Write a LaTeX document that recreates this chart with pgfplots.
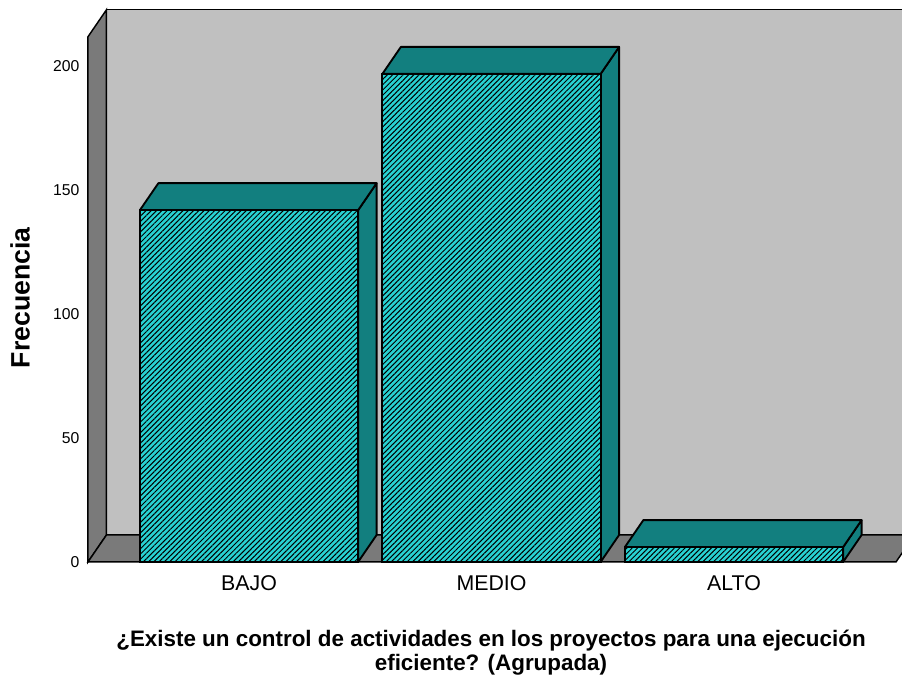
\documentclass[border=0pt]{standalone}
\usepackage{fontspec}
\setmainfont{Liberation Sans}
\usepackage{pgfplots}
\pgfplotsset{compat=1.18}
\usetikzlibrary{patterns.meta}
\definecolor{wallback}{RGB}{192,192,192}
\definecolor{walldark}{RGB}{122,122,122}
\definecolor{barfront}{RGB}{40,210,210}
\definecolor{bardark}{RGB}{18,127,127}
\begin{document}
\begin{tikzpicture}
\begin{axis}[
  x=181.875pt, y=1.858pt,
  xmin=-0.664, xmax=2.668, ymin=0, ymax=212,
  axis line style={draw=none},
  clip=false,
  xtick={0,1,2}, xticklabels={BAJO,MEDIO,ALTO},
  ytick={0,50,100,150,200},
  major tick length=0pt,
  tick style={draw=none},
  /pgf/number format/assume math mode=true,
  yticklabel style={font=\fontsize{11.8}{13}\selectfont, xshift=-3pt},
  xticklabel style={font=\fontsize{16}{19}\selectfont, yshift=-6.8pt},
  xlabel={¿Existe un control de actividades en los proyectos para una ejecución\\eficiente? (Agrupada)},
  xlabel style={at={(axis cs:0.998,-36.7)}, anchor=center, align=center, font=\bfseries\fontsize{16.8}{18}\selectfont},
  ylabel={Frecuencia},
  ylabel style={at={(axis cs:-0.944,106.6)}, anchor=center, font=\bfseries\fontsize{20}{22}\selectfont},
]
% walls
\addplot[fill=wallback, draw=black, line width=1.1pt] coordinates {(-0.5877,10.9) (2.7443,10.9) (2.7443,222.9) (-0.5877,222.9)} -- cycle;
\addplot[fill=walldark, draw=black, line width=1.1pt] coordinates {(-0.664,0) (-0.664,212) (-0.5877,222.9) (-0.5877,10.9)} -- cycle;
\addplot[fill=walldark, draw=black, line width=1.1pt] coordinates {(-0.664,0) (2.668,0) (2.7443,10.9) (-0.5877,10.9)} -- cycle;
% bar side and top faces
\addplot[fill=bardark, draw=black, line width=1.4pt, line join=round] coordinates {(0.45,0) (0.45,142) (0.5263,152.9) (0.5263,10.9)} -- cycle;
\addplot[fill=bardark, draw=black, line width=1.4pt, line join=round] coordinates {(-0.45,142) (0.45,142) (0.5263,152.9) (-0.3737,152.9)} -- cycle;
\addplot[fill=bardark, draw=black, line width=1.4pt, line join=round] coordinates {(1.45,0) (1.45,197) (1.5263,207.9) (1.5263,10.9)} -- cycle;
\addplot[fill=bardark, draw=black, line width=1.4pt, line join=round] coordinates {(0.55,197) (1.45,197) (1.5263,207.9) (0.6263,207.9)} -- cycle;
\addplot[fill=bardark, draw=black, line width=1.4pt, line join=round] coordinates {(2.45,0) (2.45,6) (2.5263,16.9) (2.5263,10.9)} -- cycle;
\addplot[fill=bardark, draw=black, line width=1.4pt, line join=round] coordinates {(1.55,6) (2.45,6) (2.5263,16.9) (1.6263,16.9)} -- cycle;
% bar front faces
\addplot[ybar, bar width=0.9, fill=barfront, draw=black, line width=1.4pt,
  postaction={pattern={Lines[angle=45,distance=2.8pt,line width=0.75pt]}, pattern color=black}]
  coordinates {(0,142) (1,197) (2,6)};
\coordinate (bbSW) at (axis cs:-1.0268,-49.24);
\coordinate (bbNE) at (axis cs:2.6928,226.84);
\end{axis}
\pgfresetboundingbox
\path[use as bounding box] (bbSW) rectangle (bbNE);
\end{tikzpicture}
\end{document}
